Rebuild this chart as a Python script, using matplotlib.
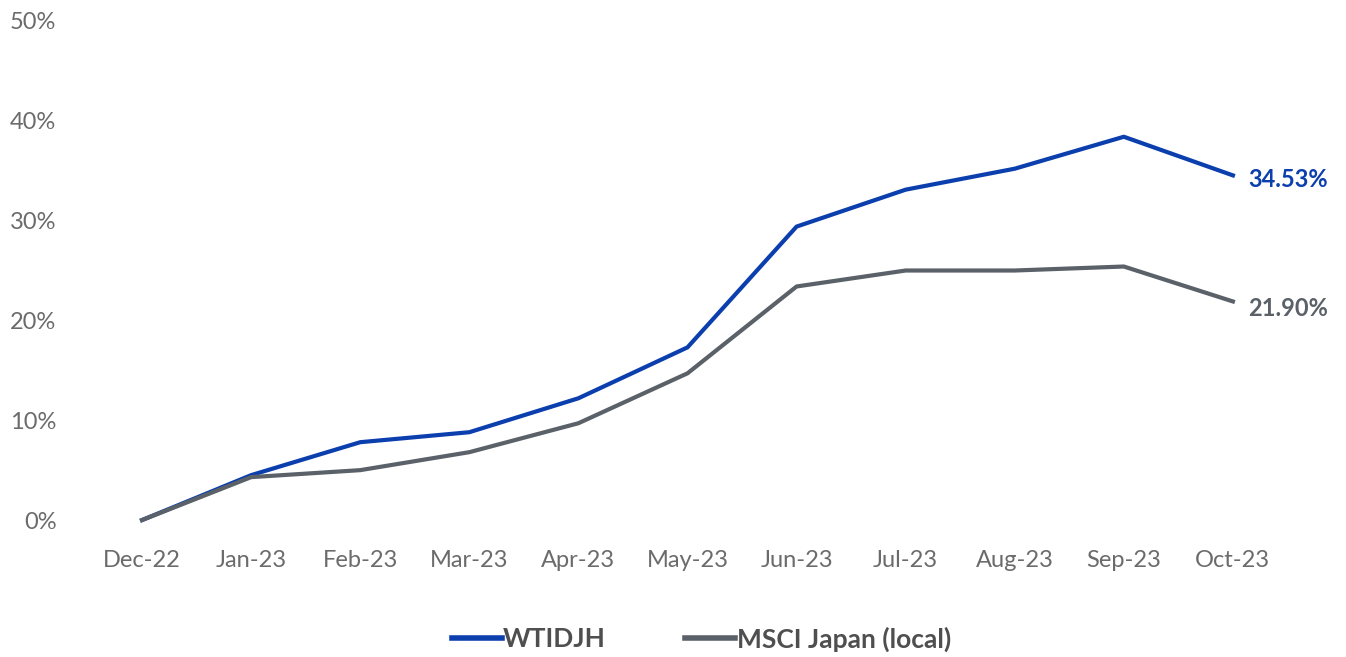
import matplotlib as mat
import matplotlib.pyplot as plt

mat.rcParams['font.family'] = ['Lato', 'DejaVu Sans']

months = ['Dec-22', 'Jan-23', 'Feb-23', 'Mar-23', 'Apr-23', 'May-23',
          'Jun-23', 'Jul-23', 'Aug-23', 'Sep-23', 'Oct-23']
wtidjh = [0.0, 4.5, 7.8, 8.8, 12.2, 17.3, 29.4, 33.1, 35.2, 38.4, 34.53]
msci = [0.0, 4.3, 5.0, 6.8, 9.7, 14.7, 23.4, 25.0, 25.0, 25.4, 21.90]
yticks = [0, 10, 20, 30, 40, 50]

blue = '#0b3fae'
grey = '#5b6168'
text_grey = '#6b6b6b'

fig = plt.figure(figsize=(13.46, 6.57), dpi=100)
ax = fig.add_axes([62/1346, 107/657, 1280/1346, 549/657])

x = range(len(months))
ax.plot(x, wtidjh, color=blue, lw=3, label='WTIDJH')
ax.plot(x, msci, color=grey, lw=3, label='MSCI Japan (local)')

# end-of-line value labels
ax.text(10.14, wtidjh[-1] - 0.4, f'{wtidjh[-1]:.2f}%', color=blue, fontsize=17,
        fontweight='bold', va='center', ha='left')
ax.text(10.14, msci[-1] - 0.7, f'{msci[-1]:.2f}%', color=grey, fontsize=17,
        fontweight='bold', va='center', ha='left')

ax.set_xlim(-0.734, 11.0)
ax.set_ylim(-3, 52)
ax.set_xticks(list(x))
ax.set_xticklabels(months)
ax.set_yticks(yticks)
ax.set_yticklabels([f'{v}%' for v in yticks])
ax.tick_params(axis='both', length=0, labelsize=17, labelcolor=text_grey)
ax.tick_params(axis='x', pad=0)
ax.tick_params(axis='y', pad=4)
for s in ax.spines.values():
    s.set_visible(False)

leg = fig.legend(loc='lower center', bbox_to_anchor=(0.521, -0.028), ncol=2,
                 frameon=False, handlelength=1.9, handletextpad=0.05,
                 columnspacing=3.0, prop={'weight': 'bold', 'size': 19})
for t in leg.get_texts():
    t.set_color('#4f4f4f')
for h in leg.get_lines():
    h.set_linewidth(4)

fig.savefig('out.png', dpi=100)
